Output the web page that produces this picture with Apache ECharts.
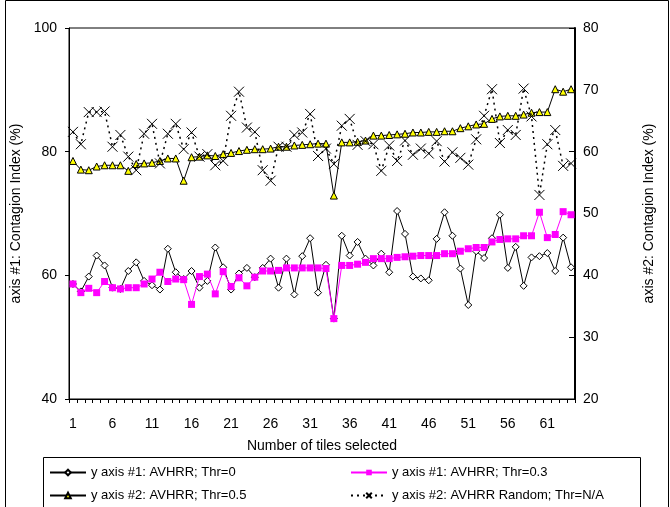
<!DOCTYPE html>
<html>
<head>
<meta charset="utf-8">
<script src="https://cdn.jsdelivr.net/npm/echarts@6/dist/echarts.min.js"></script>
<style>
html,body{margin:0;padding:0;background:#fff;}
#chart{width:670px;height:507px;}
</style>
</head>
<body>
<div id="chart"></div>
<script>
const categories = ['1','2','3','4','5','6','7','8','9','10','11','12','13','14','15','16','17','18','19','20',
'21','22','23','24','25','26','27','28','29','30','31','32','33','34','35','36','37','38','39','40',
'41','42','43','44','45','46','47','48','49','50','51','52','53','54','55','56','57','58','59','60',
'61','62','63','64'];

const leftTicks = [40, 60, 80, 100];
const rightTicks = [20, 30, 40, 50, 60, 70, 80];

const seriesNames = [
  'y axis #1: AVHRR; Thr=0',
  'y axis #1: AVHRR; Thr=0.3',
  'y axis #2: AVHRR; Thr=0.5',
  'y axis #2: AVHRR Random; Thr=N/A'
];

// y axis #1 (left)
const avhrrThr0 = [58.6,57.4,59.8,63.2,61.6,58.0,57.8,60.7,62.1,59.1,58.4,57.7,64.3,60.5,59.4,60.7,58.0,59.1,64.5,61.3,
57.7,60.3,61.2,59.7,61.2,62.7,58.0,62.7,56.9,63.1,66.0,57.2,61.7,53.0,66.4,63.2,65.4,62.7,61.6,63.5,
60.5,70.4,66.7,59.8,59.5,59.2,65.9,70.2,66.4,61.1,55.2,63.9,62.8,66.0,69.8,61.2,64.6,58.3,62.9,63.1,
63.6,60.7,66.1,61.3];

const avhrrThr03 = [58.6,57.2,57.9,57.2,59.0,58.0,57.8,58.0,58.0,58.6,59.4,60.5,59.0,59.4,59.3,55.3,59.8,60.2,57.0,60.6,
58.2,59.6,58.3,59.7,60.7,60.7,60.8,61.2,61.2,61.2,61.2,61.2,61.1,53.0,61.6,61.6,61.8,62.1,62.7,62.7,
62.7,62.9,63.0,63.1,63.2,63.2,63.2,63.5,63.5,63.9,64.3,64.5,64.5,65.4,65.8,65.9,65.9,66.4,66.4,70.2,
66.1,66.6,70.3,69.8];

// y axis #2 (right)
const avhrrThr05 = [58.5,57.1,57.0,57.6,57.8,57.8,57.8,56.9,58.0,58.1,58.2,58.5,58.9,58.9,55.3,59.1,59.2,59.4,59.3,59.6,
59.8,60.1,60.3,60.4,60.4,60.5,60.8,60.8,61.0,61.1,61.2,61.3,61.3,52.9,61.5,61.5,61.6,61.8,62.6,62.6,
62.7,62.8,62.9,63.1,63.1,63.2,63.2,63.3,63.3,63.8,64.1,64.4,64.5,65.3,65.7,65.8,65.8,66.0,66.3,66.4,
66.4,70.1,69.7,70.1];

const avhrrRandom = [63.2,61.2,66.4,66.4,66.5,60.8,62.7,59.2,57.0,62.9,64.5,58.1,62.9,64.5,60.4,63.1,59.2,59.6,57.8,58.5,
65.8,69.7,63.9,63.2,57.0,55.3,60.8,60.8,62.7,63.1,66.1,59.3,60.5,58.0,64.2,65.3,61.1,61.7,61.2,56.9,
61.0,58.5,61.8,59.5,60.5,59.7,61.7,58.4,59.9,59.0,57.9,62.0,65.8,70.1,61.4,63.5,62.7,70.2,65.7,53.0,
61.2,63.5,57.7,58.1];

const FONT = 'Liberation Sans, Arial, sans-serif';
const xPath = 'path://M0,0L10,10M10,0L0,10';

const chart = echarts.init(document.getElementById('chart'), null, {renderer: 'canvas'});

chart.setOption({
  animation: false,
  backgroundColor: '#ffffff',
  textStyle: {fontFamily: FONT, color: '#000'},
  grid: {left: 69, right: 95, top: 28, bottom: 108, show: true, borderColor: '#000', borderWidth: 1, backgroundColor: '#fff'},
  graphic: [
    {type: 'rect', left: 3, top: -2, shape: {width: 663, height: 512}, style: {fill: 'none', stroke: '#000', lineWidth: 1}, silent: true, z: -1},
    {type: 'rect', left: 43, top: 457, shape: {width: 597, height: 60}, style: {fill: '#fff', stroke: '#000', lineWidth: 1}, silent: true, z: 0}
  ],
  legend: [
    {
      data: [seriesNames[0], seriesNames[2]], orient: 'vertical', left: 44, top: 461, itemGap: 10,
      itemWidth: 36, itemHeight: 7, textStyle: {fontFamily: FONT, fontSize: 13, color: '#000'}, z: 5
    },
    {
      data: [seriesNames[1], seriesNames[3]], orient: 'vertical', left: 345, top: 461, itemGap: 10,
      itemWidth: 36, itemHeight: 7, textStyle: {fontFamily: FONT, fontSize: 13, color: '#000'}, z: 5
    }
  ],
  xAxis: {
    type: 'category', data: categories, boundaryGap: true,
    name: 'Number of tiles selected', nameLocation: 'middle', nameGap: 40,
    nameTextStyle: {fontFamily: FONT, fontSize: 14, color: '#000'},
    axisLine: {lineStyle: {color: '#000', width: 1}},
    axisTick: {show: true, interval: 0, length: 4, lineStyle: {color: '#000'}},
    axisLabel: {interval: 4, margin: 18, fontFamily: FONT, fontSize: 14, color: '#000'},
    splitLine: {show: false}
  },
  yAxis: [
    {
      type: 'value', position: 'left', min: leftTicks[0], max: leftTicks[leftTicks.length - 1],
      interval: leftTicks[1] - leftTicks[0],
      name: 'axis #1: Contagion Index (%)', nameLocation: 'middle', nameGap: 44, nameRotate: 90,
      nameTextStyle: {fontFamily: FONT, fontSize: 14, color: '#000'},
      axisLine: {show: true, lineStyle: {color: '#000', width: 1}},
      axisTick: {show: true, length: 4, lineStyle: {color: '#000'}},
      axisLabel: {margin: 12, fontFamily: FONT, fontSize: 14, color: '#000'},
      splitLine: {show: false}
    },
    {
      type: 'value', position: 'right', min: rightTicks[0], max: rightTicks[rightTicks.length - 1],
      interval: rightTicks[1] - rightTicks[0],
      name: 'axis #2: Contagion Index (%)', nameLocation: 'middle', nameGap: 67, nameRotate: 90,
      nameTextStyle: {fontFamily: FONT, fontSize: 14, color: '#000'},
      axisLine: {show: true, lineStyle: {color: '#000', width: 2}},
      axisTick: {show: true, inside: true, length: 6, lineStyle: {color: '#000'}},
      axisLabel: {margin: 8, fontFamily: FONT, fontSize: 14, color: '#000'},
      splitLine: {show: false}
    }
  ],
  series: [
    {
      name: seriesNames[0], type: 'line', yAxisIndex: 0, data: avhrrThr0,
      symbol: 'diamond', symbolSize: 7, showAllSymbol: true,
      lineStyle: {color: '#000', width: 1},
      itemStyle: {color: '#fff', borderColor: '#000', borderWidth: 1}, z: 2
    },
    {
      name: seriesNames[1], type: 'line', yAxisIndex: 0, data: avhrrThr03,
      symbol: 'rect', symbolSize: 7, showAllSymbol: true,
      lineStyle: {color: '#ff00ff', width: 1},
      itemStyle: {color: '#ff00ff', borderColor: '#ff00ff', borderWidth: 0}, z: 3
    },
    {
      name: seriesNames[2], type: 'line', yAxisIndex: 1, data: avhrrThr05,
      symbol: 'triangle', symbolSize: 7, showAllSymbol: true,
      lineStyle: {color: '#000', width: 1},
      itemStyle: {color: '#ffff00', borderColor: '#000', borderWidth: 1}, z: 4
    },
    {
      name: seriesNames[3], type: 'line', yAxisIndex: 1, data: avhrrRandom,
      symbol: xPath, symbolSize: 10, showAllSymbol: true,
      lineStyle: {color: '#000', width: 1.5, type: [2, 4]},
      itemStyle: {color: 'none', borderColor: '#000', borderWidth: 1}, z: 5
    }
  ]
});
</script>
</body>
</html>
